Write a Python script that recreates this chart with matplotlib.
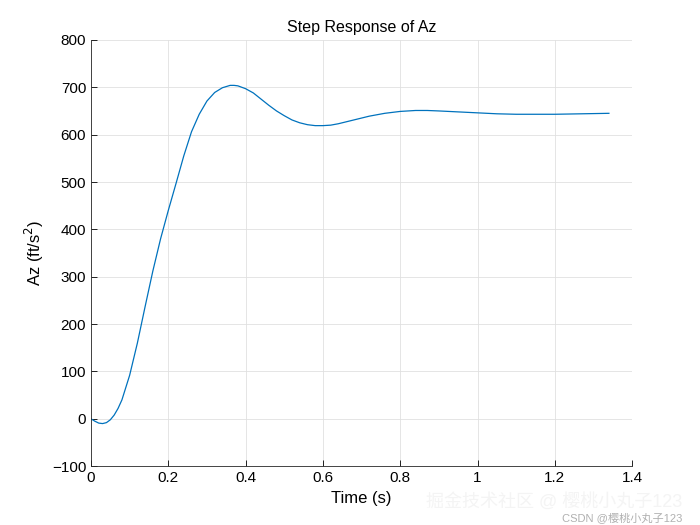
import matplotlib.pyplot as plt
plt.rcParams['font.family'] = ['Liberation Sans', 'Noto Sans CJK SC', 'DejaVu Sans']

t = [0, 0.01, 0.02, 0.03, 0.04, 0.05, 0.06, 0.07, 0.08, 0.10, 0.12, 0.14, 0.16, 0.18, 0.20, 0.22, 0.24,
     0.26, 0.28, 0.30, 0.32, 0.34, 0.36, 0.37, 0.38, 0.40, 0.42, 0.44, 0.46, 0.48, 0.50, 0.52, 0.54,
     0.56, 0.58, 0.60, 0.62, 0.64, 0.66, 0.68, 0.72, 0.76, 0.80, 0.84, 0.87, 0.90, 0.95, 1.0,
     1.05, 1.1, 1.15, 1.2, 1.27, 1.34]
az = [0, -5, -9, -10, -8, -2, 8, 22, 40, 92, 160, 237, 312, 380, 440, 497, 555,
      606, 643, 671, 689, 699, 704, 704, 703, 697, 688, 675, 662, 650, 640, 631, 625,
      621, 619, 619, 620, 623, 627, 631, 639, 645, 649, 651, 651, 650, 648, 646,
      644, 643, 643, 643, 644, 645]

fig = plt.figure(figsize=(7, 5.25), dpi=100)
ax = fig.add_axes([0.13, 0.112, 0.773, 0.812])
ax.plot(t, az, color='#0072BD', lw=0.9)
ax.set_xlim(0, 1.4)
ax.set_ylim(-100, 800)
ax.set_xticks([0, 0.2, 0.4, 0.6, 0.8, 1, 1.2, 1.4])
ax.set_xticklabels(['0', '0.2', '0.4', '0.6', '0.8', '1', '1.2', '1.4'])
ax.set_yticks(range(-100, 801, 100))
ax.grid(True, color='#e0e0e0', lw=0.6)
for s in ax.spines.values():
    s.set_color('#262626'); s.set_linewidth(0.6)
ax.spines['top'].set_visible(False)
ax.spines['right'].set_visible(False)
ax.tick_params(direction='in', labelsize=11, length=4, width=0.6)
ax.set_title('Step Response of Az', fontsize=11.5)
ax.set_xlabel('Time (s)', fontsize=12)
ax.set_ylabel('Az (ft/s$^2$)', fontsize=12)
fig.text(0.975, 0.035, '掘金技术社区 @ 樱桃小丸子123', ha='right', fontsize=13, color='#f4f4f4')
fig.text(0.975, 0.008, 'CSDN @樱桃小丸子123', ha='right', fontsize=8, color='#b0b0b0')
fig.savefig('out.png')
